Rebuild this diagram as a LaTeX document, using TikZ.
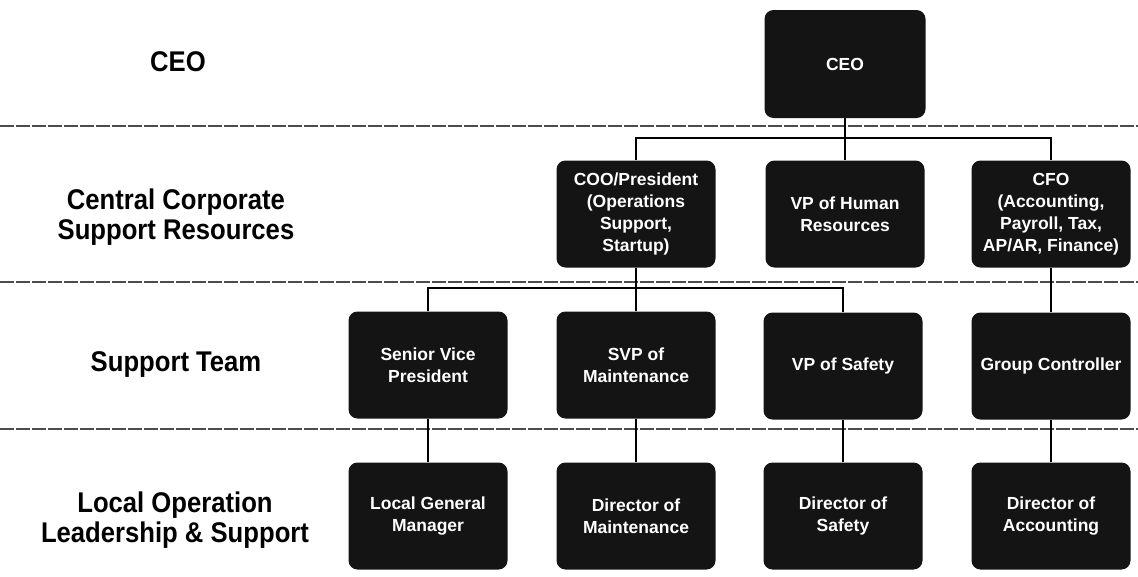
\documentclass[tikz,border=0pt]{standalone}
\usepackage{fontspec}
\setmainfont{Liberation Sans}
\newfontfamily\lblfont[FakeStretch=0.9]{Liberation Sans}
\begin{document}
\begin{tikzpicture}[x=1pt,y=-1pt,
  box/.style={draw=none, fill=black!92, rounded corners=9pt, minimum width=159pt,
    minimum height=107pt, inner sep=0pt, text=white,
    font=\fontsize{17.5}{22}\selectfont\bfseries, align=center},
  lvl/.style={font=\lblfont\fontsize{28.5}{30}\selectfont\bfseries, align=center, text=black},
  conn/.style={line width=2pt, black},
  sep/.style={line width=1.6pt, black!70, dash pattern=on 14pt off 2pt}]
\fill[white] (0,0) rectangle (1138,576);
\useasboundingbox (0,0) rectangle (1138,576);
% separators
\draw[sep] (0,126) -- (1138,126);
\draw[sep] (0,282) -- (1138,282);
\draw[sep] (0,429) -- (1138,429);
% level labels
\node[lvl] (lceo) at (178,62) {CEO};
\node[lvl] (lccs) at (176,217) {Central Corporate\\Support Resources};
\node[lvl] (lst) at (176,365) {Support Team};
\node[lvl] (llo) at (175,520) {Local Operation\\Leadership \& Support};
% boxes
\node[box, minimum width=161pt, minimum height=108pt] (ceo) at (845,64) {CEO};
\node[box] (coo) at (636,214) {COO/President\\(Operations\\Support,\\Startup)};
\node[box] (hr) at (845,214) {VP of Human\\Resources};
\node[box] (cfo) at (1051,214) {CFO\\(Accounting,\\Payroll, Tax,\\AP/AR, Finance)};
\node[box] (svp) at (428,365) {Senior Vice\\President};
\node[box] (svpm) at (636,365) {SVP of\\Maintenance};
\node[box] (vps) at (843,366) {VP of Safety};
\node[box] (gc) at (1051,366) {Group Controller};
\node[box] (lgm) at (428,516) {Local General\\Manager};
\node[box] (dm) at (636,516) {Director of\\Maintenance};
\node[box] (ds) at (843,516) {Director of\\Safety};
\node[box] (da) at (1051,516) {Director of\\Accounting};
% junctions
\coordinate (j1) at (845,138);
\coordinate (j2) at (636,288);
% connectors
\draw[conn] (ceo) -- (hr);
\draw[conn] (coo.north) |- (j1) -| (cfo.north);
\draw[conn] (coo) -- (svpm);
\draw[conn] (svp.north) |- (j2) -| (vps.north);
\draw[conn] (cfo) -- (gc);
\draw[conn] (svp) -- (lgm);
\draw[conn] (svpm) -- (dm);
\draw[conn] (vps) -- (ds);
\draw[conn] (gc) -- (da);
\end{tikzpicture}
\end{document}
